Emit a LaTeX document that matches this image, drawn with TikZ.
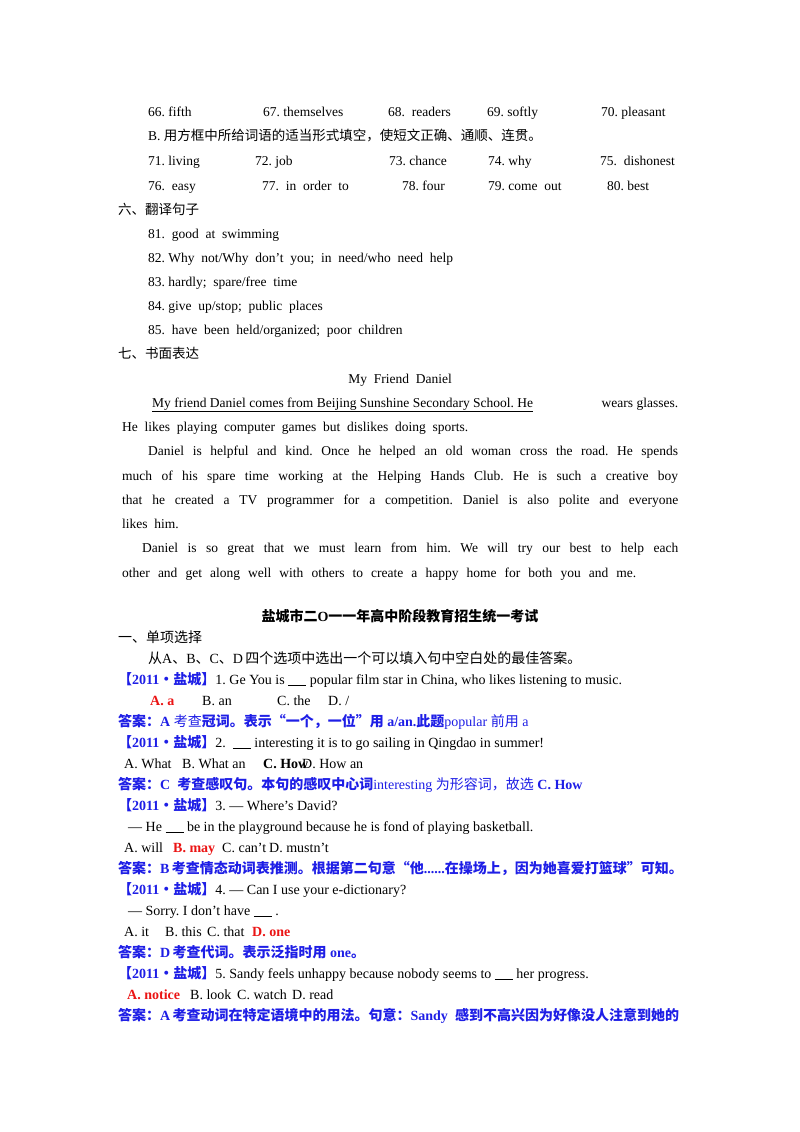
\documentclass[tikz,border=0pt]{standalone}
\usepackage{fontspec}
\setmainfont{Liberation Serif}
\newfontfamily\cjk{Noto Sans CJK SC}
\newcommand\zh[1]{{\cjk #1}}
\newcommand\bl[1][18pt]{\underline{\hspace{#1}}}
\newcommand\ap{\char"27\relax}
\definecolor{ansblue}{RGB}{30,30,230}
\definecolor{ansred}{RGB}{235,20,20}
\tikzset{t/.style={anchor=base west,inner sep=0pt,font=\fontsize{13.5}{15}\selectfont},
 u/.style={anchor=base west,inner sep=0pt,font=\fontsize{14}{16}\selectfont},
 ub/.style={u,font=\fontsize{14}{16}\selectfont\bfseries},
 ans/.style={u,text=ansblue},
 ansb/.style={ub,text=ansblue},
 red/.style={ub,text=ansred}}
\newcommand\tg{{\bfseries\color{ansblue}\zh{【}2011\zh{•盐城】}}}
\frenchspacing
\begin{document}
\begin{tikzpicture}[x=1pt,y=-1pt]
\useasboundingbox (0,0) rectangle (800,1132);
\fill[white] (0,0) rectangle (800,1132);
% top answers
\node[t] (a66) at (148,116) {66. fifth};
\node[t] (a67) at (263,116) {67. themselves};
\node[t] (a68) at (388,116) {68.\ \ readers};
\node[t] (a69) at (487,116) {69. softly};
\node[t] (a70) at (601,116) {70. pleasant};
\node[t] (bB) at (148,140) {B. \zh{用方框中所给词语的适当形式填空，使短文正确、通顺、连贯。}};
\node[t] (a71) at (148,165) {71. living};
\node[t] (a72) at (255,165) {72. job};
\node[t] (a73) at (389,165) {73. chance};
\node[t] (a74) at (488,165) {74. why};
\node[t] (a75) at (600,165) {75.\ \ dishonest};
\node[t] (a76) at (148,190) {76.\ \ easy};
\node[t] (a77) at (262,190) {77.\ \ in\ \ order\ \ to};
\node[t] (a78) at (402,190) {78. four};
\node[t] (a79) at (488,190) {79. come\ \ out};
\node[t] (a80) at (607,190) {80. best};
\node[t] (s6) at (118,214) {\zh{六、翻译句子}};
\node[t] (a81) at (148,238) {81.\ \ good\ \ at\ \ swimming};
\node[t] (a82) at (148,262) {82. Why\ \ not/Why\ \ don't\ \ you;\ \ in\ \ need/who\ \ need\ \ help};
\node[t] (a83) at (148,286) {83. hardly;\ \ spare/free\ \ time};
\node[t] (a84) at (148,310) {84. give\ \ up/stop;\ \ public\ \ places};
\node[t] (a85) at (148,334) {85.\ \ have\ \ been\ \ held/organized;\ \ poor\ \ children};
\node[t] (s7) at (118,358) {\zh{七、书面表达}};
\node[t,anchor=base] (tit) at (400,383) {My\ \ Friend\ \ Daniel};
\node[t] (p1a) at (152,407) {\makebox[239pt][s]{\underline{My friend Daniel comes from Beijing Sunshine Secondary School. He}}};
\node[t] (p1b) at (396,407) {\makebox[282pt][s]{\hfill wears glasses.}};
\node[t] (p2) at (122,431) {He\ \ likes\ \ playing\ \ computer\ \ games\ \ but\ \ dislikes\ \ doing\ \ sports.};
\node[t] (p3) at (148,455) {\makebox[530pt][s]{Daniel is helpful and kind. Once he helped an old woman cross the road. He spends}};
\node[t] (p4) at (122,480) {\makebox[556pt][s]{much of his spare time working at the Helping Hands Club. He is such a creative boy}};
\node[t] (p5) at (122,504) {\makebox[556pt][s]{that he created a TV programmer for a competition. Daniel is also polite and everyone}};
\node[t] (p6) at (122,528) {likes\ \ him.};
\node[t] (p7) at (142,552) {\makebox[536pt][s]{Daniel is so great that we must learn from him. We will try our best to help each}};
\node[t] (p8) at (122,577) {\makebox[514pt][s]{other and get along well with others to create a happy home for both you and me.}};
% second part
\node[ub,anchor=base] (head) at (400,621) {\zh{盐城市二}O\zh{一一年高中阶段教育招生统一考试}};
\node[u] (s1) at (118,642) {\zh{一、单项选择}};
\node[u] (ins) at (148,663) {\zh{从}A\zh{、}B\zh{、}C\zh{、}D\,\zh{四个选项中选出一个可以填入句中空白处的最佳答案。}};
\node[u] (q1) at (118,684) {\tg1. Ge You is \bl{} popular film star in China, who likes listening to music.};
\node[red] (q1a) at (150,705) {A. a};
\node[u] (q1b) at (202,705) {B. an};
\node[u] (q1c) at (277,705) {C. the};
\node[u] (q1d) at (328,705) {D. /};
\node[ans] (e1) at (118,726) {\textbf{\zh{答案：}A} \zh{考查}\textbf{\zh{冠词。表示“一个，一位”用} a/an.\zh{此题}}popular \zh{前用} a};
\node[u] (q2) at (118,747) {\tg2.\ \ \bl{} interesting it is to go sailing in Qingdao in summer!};
\node[u] (q2a) at (124,768) {A. What};
\node[u] (q2b) at (182,768) {B. What an};
\node[ub] (q2c) at (263,768) {C. How};
\node[u] (q2d) at (302,768) {D. How an};
\node[ans] (e2) at (118,789) {\textbf{\zh{答案：}C\ \ \zh{考查感叹句。本句的感叹中心词}}interesting \zh{为形容词，故选} \textbf{C. How}};
\node[u] (q3) at (118,810) {\tg3. --- Where\ap s David?};
\node[u] (q3s) at (128,831) {--- He \bl{} be in the playground because he is fond of playing basketball.};
\node[u] (q3a) at (124,852) {A. will};
\node[red] (q3b) at (173,852) {B. may};
\node[u] (q3c) at (222,852) {C. can\ap t};
\node[u] (q3d) at (269,852) {D. mustn\ap t};
\node[ansb] (e3) at (118,873) {\zh{答案：}B\,\zh{考查情态动词表推测。根据第二句意“他}......\zh{在操场上，因为她喜爱打篮球”可知。}};
\node[u] (q4) at (118,894) {\tg4. --- Can I use your e-dictionary?};
\node[u] (q4s) at (128,915) {--- Sorry. I don\ap t have \bl{} .};
\node[u] (q4a) at (124,936) {A. it};
\node[u] (q4b) at (165,936) {B. this};
\node[u] (q4c) at (207,936) {C. that};
\node[red] (q4d) at (252,936) {D. one};
\node[ansb] (e4) at (118,957) {\zh{答案：}D\,\zh{考查代词。表示泛指时用} one\zh{。}};
\node[u] (q5) at (118,978) {\tg5. Sandy feels unhappy because nobody seems to \bl{} her progress.};
\node[red] (q5a) at (127,999) {A. notice};
\node[u] (q5b) at (190,999) {B. look};
\node[u] (q5c) at (237,999) {C. watch};
\node[u] (q5d) at (292,999) {D. read};
\node[ansb] (e5) at (118,1020) {\zh{答案：}A\,\zh{考查动词在特定语境中的用法。句意：}Sandy\ \ \zh{感到不高兴因为好像没人注意到她的}};
\end{tikzpicture}
\end{document}
